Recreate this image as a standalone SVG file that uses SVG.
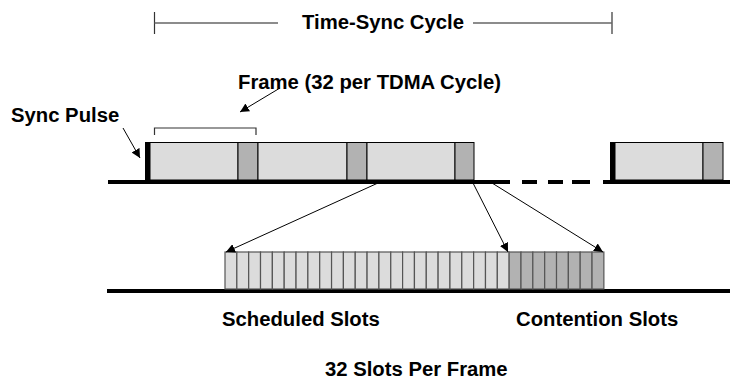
<svg xmlns="http://www.w3.org/2000/svg" width="732" height="379" viewBox="0 0 732 379">
  <defs>
    <marker id="arrow" viewBox="0 0 10 10" refX="10" refY="5" markerWidth="9" markerHeight="9" markerUnits="userSpaceOnUse" orient="auto">
      <path d="M0,0 L10,5 L0,10 z" fill="#000"/>
    </marker>
    <style>
      .lbl { font-family: "Liberation Sans", Arial, sans-serif; font-weight: bold; font-size: 20.3px; fill: #000; }
      .axis { stroke: #000; stroke-width: 4; fill: none; }
      .dim { stroke: #666; stroke-width: 1.5; fill: none; }
      .tick { stroke: #333; stroke-width: 1.2; fill: none; }
      .data { fill: #dcdcdc; stroke: #000; stroke-width: 1; }
      .ctrl { fill: #b2b2b2; stroke: #000; stroke-width: 1; }
      .slotA { fill: #dcdcdc; stroke: #555; stroke-width: 1.2; }
      .slotB { fill: #b2b2b2; stroke: #555; stroke-width: 1.2; }
      .pulse { fill: #000; }
      .ptr { stroke: #000; stroke-width: 1; fill: none; marker-end: url(#arrow); }
    </style>
  </defs>

  <!-- cycle dimension line -->
  <g id="cycle-dimension">
    <path class="tick" d="M154.5 12 V34"/>
    <path class="tick" d="M612 12 V34"/>
    <path class="dim" d="M154.5 23 H278"/>
    <path class="dim" d="M473 23 H612"/>
    <text class="lbl" x="302" y="29">Time-Sync Cycle</text>
  </g>

  <!-- time axes -->
  <g id="axes">
    <path class="axis" d="M108 182 H510"/>
    <path class="axis" d="M522 182 H537 M548 182 H563 M572 182 H590"/>
    <path class="axis" d="M603 182 H730"/>
    <path class="axis" d="M107 291 H730"/>
  </g>

  <!-- frames on the upper axis -->
  <g id="frame-1">
    <rect class="pulse" x="145" y="142" width="5" height="40"/>
    <rect class="data" x="150" y="142.5" width="88" height="37.5"/>
    <rect class="ctrl" x="238" y="142.5" width="20" height="37.5"/>
  </g>
  <g id="frame-2">
    <rect class="data" x="258" y="142.5" width="89" height="37.5"/>
    <rect class="ctrl" x="347" y="142.5" width="20" height="37.5"/>
  </g>
  <g id="frame-3">
    <rect class="data" x="367" y="142.5" width="88" height="37.5"/>
    <rect class="ctrl" x="455" y="142.5" width="19" height="37.5"/>
  </g>
  <g id="frame-n">
    <rect class="pulse" x="610" y="142" width="5" height="40"/>
    <rect class="data" x="615" y="142.5" width="88" height="37.5"/>
    <rect class="ctrl" x="703" y="142.5" width="20" height="37.5"/>
  </g>

  <!-- frame width bracket -->
  <g id="frame-bracket">
    <path class="tick" d="M154.5 135 V128 H256 V135"/>
  </g>

  <!-- 32 slots of one frame: 24 scheduled, 8 contention -->
  <g id="slots">
    <rect class="slotA" x="225.0" y="252" width="11.84" height="37"/>
    <rect class="slotA" x="236.84" y="252" width="11.84" height="37"/>
    <rect class="slotA" x="248.68" y="252" width="11.84" height="37"/>
    <rect class="slotA" x="260.52" y="252" width="11.84" height="37"/>
    <rect class="slotA" x="272.36" y="252" width="11.84" height="37"/>
    <rect class="slotA" x="284.2" y="252" width="11.84" height="37"/>
    <rect class="slotA" x="296.04" y="252" width="11.84" height="37"/>
    <rect class="slotA" x="307.88" y="252" width="11.84" height="37"/>
    <rect class="slotA" x="319.72" y="252" width="11.84" height="37"/>
    <rect class="slotA" x="331.56" y="252" width="11.84" height="37"/>
    <rect class="slotA" x="343.4" y="252" width="11.84" height="37"/>
    <rect class="slotA" x="355.24" y="252" width="11.84" height="37"/>
    <rect class="slotA" x="367.08" y="252" width="11.84" height="37"/>
    <rect class="slotA" x="378.92" y="252" width="11.84" height="37"/>
    <rect class="slotA" x="390.76" y="252" width="11.84" height="37"/>
    <rect class="slotA" x="402.6" y="252" width="11.84" height="37"/>
    <rect class="slotA" x="414.44" y="252" width="11.84" height="37"/>
    <rect class="slotA" x="426.28" y="252" width="11.84" height="37"/>
    <rect class="slotA" x="438.12" y="252" width="11.84" height="37"/>
    <rect class="slotA" x="449.96" y="252" width="11.84" height="37"/>
    <rect class="slotA" x="461.8" y="252" width="11.84" height="37"/>
    <rect class="slotA" x="473.64" y="252" width="11.84" height="37"/>
    <rect class="slotA" x="485.48" y="252" width="11.84" height="37"/>
    <rect class="slotA" x="497.32" y="252" width="11.84" height="37"/>
    <rect class="slotB" x="509.16" y="252" width="11.84" height="37"/>
    <rect class="slotB" x="521.0" y="252" width="11.84" height="37"/>
    <rect class="slotB" x="532.84" y="252" width="11.84" height="37"/>
    <rect class="slotB" x="544.68" y="252" width="11.84" height="37"/>
    <rect class="slotB" x="556.52" y="252" width="11.84" height="37"/>
    <rect class="slotB" x="568.36" y="252" width="11.84" height="37"/>
    <rect class="slotB" x="580.2" y="252" width="11.84" height="37"/>
    <rect class="slotB" x="592.04" y="252" width="11.84" height="37"/>
  </g>

  <!-- pointers -->
  <g id="connectors">
    <path class="ptr" d="M123 128 L140 158"/>
    <path class="ptr" d="M280 88 L240 112"/>
    <path class="ptr" d="M378 183 L226 252"/>
    <path class="ptr" d="M473 183 L508 252"/>
    <path class="ptr" d="M492 183 L603 252"/>
  </g>

  <!-- labels -->
  <g id="labels">
    <text class="lbl" x="238" y="89">Frame (32 per TDMA Cycle)</text>
    <text class="lbl" x="11" y="122">Sync Pulse</text>
    <text class="lbl" x="222" y="326">Scheduled Slots</text>
    <text class="lbl" x="516" y="326">Contention Slots</text>
    <text class="lbl" x="325" y="376">32 Slots Per Frame</text>
  </g>
</svg>
